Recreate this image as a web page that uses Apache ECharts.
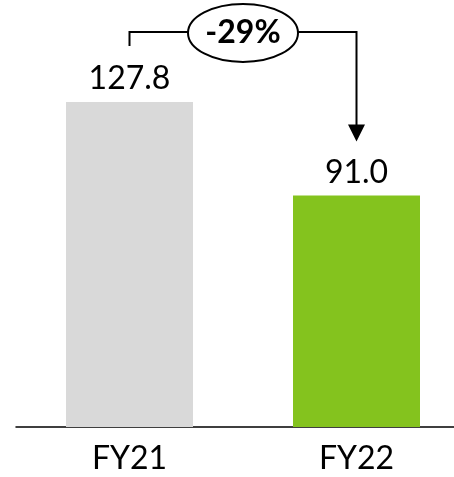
<!DOCTYPE html>
<html><head><meta charset="utf-8">
<script src="https://cdn.jsdelivr.net/npm/echarts@6/dist/echarts.min.js"></script>
<style>html,body{margin:0;padding:0;background:#fff}#c{width:454px;height:477px}</style>
</head><body><div id="c"></div>
<script>
const categories = ['FY21', 'FY22'];
const values = [127.8, 91.0];
const barColors = ['#D9D9D9', '#84C31E'];
const FONT = 'Lato';

const chart = echarts.init(document.getElementById('c'), null, {renderer: 'canvas'});
chart.setOption({
  animation: false,
  grid: {left: 16, width: 454, top: 20, bottom: 50, outerBoundsMode: 'none', containLabel: false},
  xAxis: {
    type: 'category', data: categories,
    axisLine: {lineStyle: {color: '#000', width: 1.5}},
    axisTick: {show: false},
    axisLabel: {color: '#000', fontSize: 32, fontFamily: FONT, margin: 16}
  },
  yAxis: {type: 'value', min: 0, max: 160, show: false, splitLine: {show: false}},
  series: [{
    type: 'bar', barWidth: 127,
    data: values.map((v, i) => ({value: v, itemStyle: {color: barColors[i]}})),
    label: {show: true, position: 'top', distance: 7, color: '#000', fontSize: 32, fontFamily: FONT,
      formatter: p => p.value.toFixed(1)}
  }]
});

const pA = chart.convertToPixel({seriesIndex: 0}, [0, values[0]]);
const pB = chart.convertToPixel({seriesIndex: 0}, [1, values[1]]);
const pct = Math.round((values[1] / values[0] - 1) * 100);
const bracketY = pA[1] - 70;
const startY = pA[1] - 56;
const tipY = pB[1] - 54;
const cx = (pA[0] + pB[0]) / 2, rx = 55, ry = 29;
const st = {stroke: '#000', lineWidth: 2, fill: null};
chart.setOption({
  graphic: [
    {type: 'polyline', shape: {points: [[pA[0], startY], [pA[0], bracketY], [cx - rx, bracketY]]}, style: st},
    {type: 'polyline', shape: {points: [[cx + rx, bracketY], [pB[0], bracketY], [pB[0], tipY - 14]]}, style: st},
    {type: 'polygon', shape: {points: [[pB[0] - 8.5, tipY - 17], [pB[0] + 8.5, tipY - 17], [pB[0], tipY]]}, style: {fill: '#000'}},
    {type: 'ellipse', shape: {cx: cx, cy: bracketY + 1, rx: rx, ry: ry}, style: {stroke: '#000', lineWidth: 2, fill: '#fff'}},
    {type: 'text', x: cx, y: bracketY + 1, style: {text: pct + '%', fontSize: 32, fontWeight: 'bold', fontFamily: FONT, fill: '#000', align: 'center', verticalAlign: 'middle'}}
  ]
});
</script></body></html>
